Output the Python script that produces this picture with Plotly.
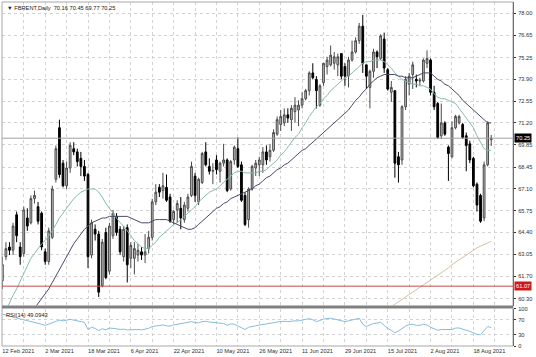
import pandas as pd
import plotly.graph_objects as go

# ---------------- data ----------------
dates = [d for d in pd.bdate_range("2021-02-12", "2021-08-25") if d != pd.Timestamp("2021-04-02")]
idx = list(range(len(dates)))

opens = [61.4, 62.9, 63.5, 63.3, 65.5, 63.5, 63.1, 65.3, 65.0, 66.5,
         66.0, 65.6, 63.2, 62.6, 64.1, 67.7, 70.9, 68.7, 67.3, 68.4,
         69.6, 69.4, 69.0, 68.5, 68.0, 63.0, 64.6, 64.3, 61.1, 64.4,
         62.0, 64.2, 65.4, 64.6, 62.9, 64.7, 62.8, 62.8, 63.0, 63.2,
         63.0, 63.4, 64.1, 66.3, 67.2, 67.0, 67.2, 66.6, 65.2, 65.8,
         65.9, 65.2, 65.9, 66.7, 67.9, 66.3, 67.5, 69.4, 68.5, 68.2,
         68.9, 68.2, 68.7, 68.9, 67.1, 68.9, 69.6, 68.6, 66.7, 65.2,
         67.1, 68.4, 68.6, 68.6, 69.4, 69.1, 69.5, 70.5, 71.1, 71.2,
         71.7, 71.4, 71.9, 72.0, 72.3, 72.7, 73.2, 74.3, 73.9, 72.3,
         73.7, 74.7, 74.8, 74.9, 74.8, 75.5, 74.7, 74.1, 75.1, 75.6,
         76.3, 77.2, 74.8, 73.4, 74.4, 75.6, 75.2, 76.4, 74.5, 73.1,
         73.2, 69.1, 68.9, 72.2, 73.6, 74.2, 73.9, 73.8, 73.8, 74.9,
         75.1, 73.1, 72.4, 70.4, 71.2, 69.7, 69.1, 70.9, 71.2, 71.1,
         70.4, 69.9, 69.0, 67.4, 66.7, 65.3, 68.6, 70.16]
highs = [62.9, 63.8, 63.8, 65.0, 65.7, 63.8, 66.0, 65.9, 66.7, 67.0,
         66.3, 65.7, 63.4, 64.7, 67.3, 69.8, 71.4, 68.9, 68.8, 70.0,
         70.0, 69.6, 69.4, 68.9, 68.1, 65.2, 64.9, 64.5, 64.0, 64.7,
         65.0, 65.8, 65.6, 64.8, 64.8, 64.9, 63.8, 63.8, 63.7, 63.5,
         64.3, 64.5, 66.5, 67.4, 67.4, 68.1, 68.0, 66.8, 65.8, 66.4,
         66.6, 66.3, 66.8, 68.8, 68.1, 67.8, 69.4, 70.0, 69.0, 68.7,
         69.2, 68.8, 69.9, 69.0, 68.9, 69.8, 70.3, 68.8, 66.9, 67.2,
         68.6, 68.9, 69.1, 69.7, 69.8, 69.9, 70.8, 71.6, 72.0, 72.1,
         72.1, 72.3, 72.8, 72.6, 73.1, 73.3, 74.4, 74.9, 74.1, 73.6,
         74.9, 75.3, 76.0, 75.6, 75.5, 75.5, 74.9, 75.3, 76.3, 76.5,
         77.4, 77.9, 74.8, 74.5, 75.8, 75.7, 76.7, 76.8, 74.6, 73.8,
         73.2, 69.4, 72.3, 74.1, 74.3, 75.0, 74.2, 74.0, 75.2, 75.7,
         75.2, 73.5, 72.5, 72.4, 71.3, 69.8, 71.3, 71.7, 71.7, 71.2,
         70.6, 70.1, 69.1, 67.5, 66.8, 68.8, 71.3, 70.45]
lows = [60.9, 62.7, 63.0, 63.0, 63.8, 62.4, 62.9, 64.5, 64.9, 66.2,
        64.9, 63.3, 62.4, 62.4, 64.0, 67.5, 67.8, 67.2, 67.1, 68.1,
        69.2, 68.5, 67.9, 67.6, 62.2, 62.8, 63.9, 60.4, 61.0, 61.5,
        61.8, 64.0, 64.2, 63.0, 62.6, 61.3, 62.2, 61.8, 62.6, 62.7,
        62.5, 63.1, 63.9, 66.1, 66.6, 66.5, 66.3, 65.0, 64.9, 65.0,
        64.6, 65.0, 65.7, 66.6, 66.3, 66.1, 67.4, 68.5, 68.0, 67.4,
        68.0, 67.5, 68.5, 66.9, 67.0, 68.6, 68.4, 66.3, 64.8, 64.7,
        67.0, 67.9, 67.9, 68.1, 68.6, 68.8, 69.4, 70.4, 70.7, 71.0,
        71.2, 70.7, 71.2, 71.0, 72.1, 72.6, 72.9, 73.9, 72.1, 72.2,
        73.5, 74.2, 74.7, 74.5, 74.1, 73.9, 73.5, 73.4, 75.0, 75.5,
        76.1, 74.3, 73.3, 72.1, 74.0, 74.6, 75.1, 74.3, 73.2, 72.5,
        67.8, 67.5, 68.6, 72.0, 72.9, 73.3, 73.4, 73.5, 73.7, 74.6,
        72.9, 72.0, 70.2, 70.2, 70.4, 67.6, 69.0, 70.8, 71.1, 70.2,
        68.2, 68.7, 67.2, 65.7, 65.0, 65.1, 68.5, 69.77]
closes = [62.4, 63.4, 63.3, 64.8, 64.2, 62.9, 65.8, 64.8, 66.5, 66.7,
          65.1, 63.5, 62.6, 64.5, 67.1, 69.6, 68.0, 67.3, 68.4, 69.8,
          69.4, 68.8, 68.5, 67.9, 62.9, 65.0, 64.3, 60.7, 63.8, 61.6,
          64.8, 65.6, 64.4, 63.2, 64.6, 62.4, 63.6, 63.4, 63.3, 63.0,
          63.2, 64.1, 66.3, 66.9, 66.9, 67.3, 66.4, 65.1, 65.7, 66.2,
          65.3, 66.1, 66.6, 68.5, 66.7, 67.7, 69.3, 68.6, 68.2, 68.25,
          68.3, 68.7, 68.9, 67.0, 68.8, 69.7, 68.5, 66.4, 64.9, 67.1,
          68.5, 68.7, 68.9, 69.4, 68.9, 69.5, 70.6, 71.4, 71.6, 71.7,
          71.5, 72.1, 72.3, 72.3, 72.7, 73.2, 74.3, 74.0, 73.2, 73.5,
          74.9, 75.1, 75.4, 75.3, 75.3, 74.1, 74.1, 75.1, 75.6, 76.3,
          77.2, 74.9, 74.1, 74.4, 75.6, 75.3, 76.6, 74.6, 73.3, 73.4,
          68.7, 68.6, 72.2, 73.9, 74.1, 74.8, 73.8, 73.85, 75.1, 75.2,
          73.1, 72.2, 70.3, 71.2, 70.5, 69.3, 70.9, 71.6, 71.6, 70.3,
          69.8, 68.9, 67.3, 66.1, 65.1, 68.6, 71.2, 70.25]

ma_fast = [59.1, 59.6, 60.0, 60.5, 60.9, 61.4, 61.9, 62.4, 62.8, 63.1,
           63.4, 63.7, 63.9, 64.2, 64.5, 64.9, 65.3, 65.6, 65.9, 66.2,
           66.5, 66.7, 66.9, 67.0, 67.1, 67.1, 67.1, 66.9, 66.6, 66.2,
           65.9, 65.6, 65.3, 65.0, 64.8, 64.5, 64.2, 63.9, 63.7, 63.5,
           63.4, 63.4, 63.6, 63.8, 64.1, 64.3, 64.5, 64.7, 64.9, 65.0,
           65.2, 65.4, 65.6, 65.8, 66.0, 66.3, 66.5, 66.7, 66.9, 67.0,
           67.1, 67.3, 67.5, 67.7, 67.9, 68.1, 68.2, 68.2, 68.1, 68.1,
           68.1, 68.1, 68.2, 68.2, 68.3, 68.5, 68.7, 68.9, 69.2, 69.4,
           69.7, 70.0, 70.3, 70.5, 70.9, 71.2, 71.6, 71.9, 72.2, 72.4,
           72.7, 72.9, 73.2, 73.4, 73.6, 73.8, 74.0, 74.1, 74.3, 74.5,
           74.7, 74.9, 75.0, 75.0, 75.1, 75.1, 75.1, 75.0, 74.8, 74.6,
           74.3, 74.1, 73.9, 73.8, 73.7, 73.6, 73.6, 73.5, 73.5, 73.4,
           73.3, 73.0, 72.8, 72.7, 72.7, 72.6, 72.5, 72.4, 72.1, 71.8,
           71.5, 71.2, 70.9, 70.4, 70.0, 69.6, 69.5, 69.5]
ma_slow = [None] * 7 + [
           59.0, 59.3, 59.7,
           60.0, 60.3, 60.6, 60.9, 61.3, 61.7, 62.1, 62.5, 62.9, 63.3,
           63.7, 64.0, 64.3, 64.6, 64.8, 65.0, 65.1, 65.2, 65.3, 65.3,
           65.4, 65.4, 65.4, 65.4, 65.4, 65.4, 65.3, 65.2, 65.1, 65.0,
           65.0, 65.0, 65.1, 65.2, 65.2, 65.2, 65.2, 65.1, 65.0, 64.9,
           64.8, 64.7, 64.6, 64.6, 64.7, 64.9, 65.1, 65.3, 65.5, 65.7,
           65.9, 66.0, 66.2, 66.3, 66.5, 66.6, 66.7, 66.8, 66.9, 67.0,
           67.1, 67.3, 67.4, 67.6, 67.8, 67.9, 68.1, 68.3, 68.4, 68.6,
           68.7, 68.9, 69.1, 69.3, 69.5, 69.6, 69.8, 70.0, 70.2, 70.4,
           70.6, 70.8, 71.0, 71.2, 71.4, 71.6, 71.8, 72.0, 72.3, 72.6,
           72.8, 73.1, 73.3, 73.6, 73.8, 74.0, 74.1, 74.2, 74.2, 74.2,
           74.2, 74.1, 74.1, 74.0, 74.0, 74.0, 74.1, 74.2, 74.3, 74.3,
           74.3, 74.1, 73.9, 73.8, 73.6, 73.5, 73.3, 73.1, 72.9, 72.6,
           72.4, 72.2, 72.0, 71.8, 71.6, 71.4, 71.2, 71.2]
ma_long = [None] * 108 + [
           59.6, 59.8, 59.95, 60.1, 60.25, 60.4, 60.55, 60.7, 60.85, 61.0,
           61.15, 61.3, 61.45, 61.6, 61.75, 61.9, 62.05, 62.2, 62.4, 62.55,
           62.75, 62.9, 63.05, 63.2, 63.35, 63.45, 63.55, 63.65, 63.75, 63.85]

rsi = [85, 82, 79, 77, 75, 72, 70, 68, 66, 64,
       62, 58, 55, 58, 62, 66, 69, 67, 70, 71,
       69, 67, 65, 63, 44, 50, 47, 41, 46, 43,
       48, 48, 46, 44, 45, 43, 44, 44, 44, 43,
       45, 47, 52, 54, 55, 56, 54, 53, 56, 58,
       58, 60, 63, 65, 62, 62, 65, 66, 64, 63,
       62, 61, 60, 55, 59, 58, 53, 48, 44, 50,
       53, 54, 56, 57, 58, 60, 62, 64, 65, 66,
       65, 67, 67, 67, 69, 72, 73, 70, 65, 68,
       72, 73, 74, 72, 70, 66, 65, 67, 69, 71,
       74, 58, 52, 56, 60, 61, 63, 55, 47, 42,
       35, 40, 47, 53, 57, 58, 55, 55, 58, 56,
       50, 45, 42, 44, 44, 42, 44, 48, 48, 45,
       43, 39, 35, 31, 30, 42, 52, 49.09]

price_ticks = [78.00, 76.65, 75.25, 73.90, 72.55, 71.20, 69.85, 68.45,
               67.10, 65.75, 64.40, 63.05, 61.70, 60.30]
rsi_ticks = [0, 30, 70, 100]
last_price = 70.25
level_price = 61.07
title_text = "▼ FBRENT,Daily  70.16 70.45 69.77 70.25"
rsi_text = "RSI(14) 49.0943"

# ---------------- figure ----------------
FONT = "Liberation Sans"
grid_ticks = list(range(0, 139, 6))
grid_text = [(f"{dates[i].day} {dates[i].strftime('%b %Y')}" if (i % 12 == 0 and i < len(dates)) else "")
             for i in grid_ticks]

fig = go.Figure()
fig.add_trace(go.Candlestick(
    x=idx, open=opens, high=highs, low=lows, close=closes,
    xaxis="x", yaxis="y", whiskerwidth=0,
    increasing=dict(line=dict(color="#4a4a4a", width=1), fillcolor="#c4c4c4"),
    decreasing=dict(line=dict(color="#000000", width=1), fillcolor="#000000"),
    showlegend=False, hoverinfo="skip"))
fig.add_trace(go.Scatter(x=idx, y=ma_long, mode="lines", xaxis="x", yaxis="y",
                         line=dict(color="#d6c19c", width=1), showlegend=False))
fig.add_trace(go.Scatter(x=idx, y=ma_fast, mode="lines", xaxis="x", yaxis="y",
                         line=dict(color="#85bcad", width=1), showlegend=False))
fig.add_trace(go.Scatter(x=idx, y=ma_slow, mode="lines", xaxis="x", yaxis="y",
                         line=dict(color="#4a4a68", width=1), showlegend=False))
fig.add_trace(go.Scatter(x=idx, y=rsi, mode="lines", xaxis="x2", yaxis="y2",
                         line=dict(color="#86bddc", width=1), showlegend=False))

XR = [-0.1, 143.1]
FS = 5.7
tickfont = dict(family=FONT, size=FS, color="#303030")
fig.update_layout(
    width=536, height=357,
    margin=dict(l=2, r=23, t=2, b=11, autoexpand=False),
    paper_bgcolor="white", plot_bgcolor="white",
    showlegend=False,
    xaxis=dict(domain=[0, 1], range=XR, anchor="y", tickvals=grid_ticks, automargin=False,
               showticklabels=False, ticks="", showgrid=True, gridcolor="#d2d2d2",
               griddash="dot", zeroline=False, rangeslider=dict(visible=False)),
    xaxis2=dict(domain=[0, 1], range=XR, anchor="y2", tickvals=grid_ticks, ticktext=grid_text,
                automargin=False, tickfont=tickfont, ticks="", ticklabelstandoff=0,
                ticklabelposition="outside right",
                showgrid=True, gridcolor="#d2d2d2", griddash="dot", zeroline=False),
    yaxis=dict(domain=[0.1177, 1], range=[59.87, 78.70], anchor="x", side="right",
               automargin=False,
               tickvals=price_ticks, ticktext=[f"{v:.2f}" for v in price_ticks],
               tickfont=tickfont, ticks="outside", ticklen=2, tickcolor="#333333",
               ticklabelstandoff=1,
               showline=True, linecolor="#333333", linewidth=1,
               showgrid=True, gridcolor="#d2d2d2", griddash="dot", zeroline=False),
    yaxis2=dict(domain=[0, 0.109], range=[0, 100], anchor="x2", side="right",
                automargin=False,
                tickvals=rsi_ticks, ticktext=[str(v) for v in rsi_ticks],
                tickfont=tickfont, ticks="outside", ticklen=2, tickcolor="#333333",
                ticklabelstandoff=1,
                showline=True, linecolor="#333333", linewidth=1,
                showgrid=True, gridcolor="#d2d2d2", griddash="dot", zeroline=False),
    shapes=[
        dict(type="rect", xref="paper", yref="paper", x0=0, x1=1, y0=0, y1=1,
             line=dict(color="#a8a8a8", width=1)),
        dict(type="line", xref="paper", yref="y", x0=0, x1=1, y0=level_price, y1=level_price,
             line=dict(color="#c84a4a", width=1)),
        dict(type="line", xref="paper", yref="y", x0=0, x1=1, y0=last_price, y1=last_price,
             line=dict(color="#a0a0a0", width=1)),
        dict(type="line", xref="paper", yref="paper", x0=0, x1=1, y0=0.1134, y1=0.1134,
             line=dict(color="#808080", width=3)),
    ],
    annotations=[
        dict(text=title_text, xref="paper", yref="paper", x=0, y=1, xanchor="left", yanchor="top",
             xshift=3, yshift=-1, showarrow=False, font=dict(family=FONT, size=FS, color="#202020")),
        dict(text=rsi_text, xref="paper", yref="paper", x=0, y=0.109, xanchor="left", yanchor="top",
             xshift=2, yshift=-1, showarrow=False, font=dict(family=FONT, size=FS, color="#202020")),
        dict(text=f"{last_price:.2f}", xref="paper", yref="y", x=1, y=last_price, xanchor="left",
             xshift=1, showarrow=False, bgcolor="#000000", borderpad=1,
             font=dict(family=FONT, size=FS, color="white")),
        dict(text=f"{level_price:.2f}", xref="paper", yref="y", x=1, y=level_price, xanchor="left",
             xshift=1, showarrow=False, bgcolor="#d01818", borderpad=1,
             font=dict(family=FONT, size=FS, color="white")),
    ],
)

fig.write_html("out.html", config={"displayModeBar": False},
               post_script="document.body.style.margin='0px';document.body.style.padding='0px';")
